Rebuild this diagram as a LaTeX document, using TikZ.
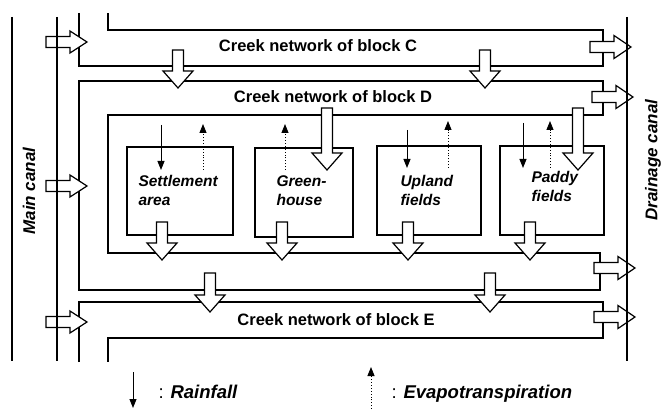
\documentclass[tikz,border=0pt]{standalone}
\usepackage{fontspec}
\setmainfont{Liberation Sans}
\usetikzlibrary{arrows.meta}
\begin{document}
\begin{tikzpicture}[x=1pt, y=-1pt,
    wall/.style = {black, line width=1.5pt},
    field/.style = {draw, line width=1.5pt, inner sep=0pt},
    flowline/.style = {draw, fill=white, line width=1.2pt, line join=miter},
    pics/flow/.style n args = {2}{code={
        \draw[flowline] (0,-5.5) -- ({#1-17},-5.5) -- ({#1-17},-#2) -- (#1,0)
              -- ({#1-17},#2) -- ({#1-17},5.5) -- (0,5.5) -- cycle;}},
    rain/.style = {line width=1pt, -{Triangle[length=9pt,width=7pt]}},
    evap/.style = {line width=0.9pt, dotted, -{Triangle[length=9pt,width=7pt]}},
    creek/.style = {font=\fontsize{16.5}{18}\selectfont\bfseries, anchor=base},
    canal/.style = {font=\fontsize{17}{19}\selectfont\bfseries\itshape, rotate=90},
    land/.style = {font=\fontsize{15.5}{19}\selectfont\bfseries\itshape, align=left, anchor=base west},
    legend/.style = {font=\fontsize{18.5}{20}\selectfont, anchor=base west}]
    \useasboundingbox (0,0) rectangle (670,409);

    % creek networks
    \draw[wall] (79,13) -- (79,66) -- (603,66) -- (603,30) -- (108,30) -- (108,13);
    \draw[wall] (79,81) -- (603,81) -- (603,115) -- (108,115) -- (108,253)
                -- (600,253) -- (600,290) -- (79,290) -- cycle;
    \draw[wall] (79,362) -- (79,302) -- (603,302) -- (603,338) -- (108,338) -- (108,362);

    % land uses
    \node[field, minimum width=106pt, minimum height=88pt] (settle) at (180,191) {};
    \node[field, minimum width=98pt, minimum height=89pt] (green) at (304,192.5) {};
    \node[field, minimum width=104pt, minimum height=89pt] (upland) at (429,190.5) {};
    \node[field, minimum width=104pt, minimum height=89pt] (paddy) at (552,190.5) {};

    \node[land] (settleL) at (135,206) {Settlement\\area};
    \node[land] (greenL) at (273,206) {Green-\\house};
    \node[land] (uplandL) at (397,206) {Upland\\fields};
    \node[land] (paddyL) at (528,202) {Paddy\\fields};

    % rainfall and evapotranspiration
    \draw[rain] (161,125) -- (161,170);
    \draw[rain] (407,130) -- (407,168);
    \draw[rain] (523,123) -- (523,168);
    \draw[evap] (203,170) -- (203,124);
    \draw[evap] (285,170) -- (285,124);
    \draw[evap] (448,168) -- (448,121);
    \draw[evap] (550,168) -- (550,121);

    % water flows
    \foreach \y in {42,186,322}
        \pic at (46,\y) {flow={41}{11}};
    \foreach \y/\x in {47/590,97/592,268/594,317/594}
        \pic at (\x,\y) {flow={41}{11.5}};
    \foreach \x in {178,485}
        \pic[rotate=-90] at (\x,50) {flow={38}{15}};
    \foreach \x in {327,578}
        \pic[rotate=-90] at (\x,108) {flow={62}{15}};
    \foreach \x in {162,282,408,530}
        \pic[rotate=-90] at (\x,222) {flow={38}{15}};
    \foreach \x in {210,490}
        \pic[rotate=-90] at (\x,273) {flow={39}{15}};

    % canals
    \draw[wall] (12,17) -- (12,361);
    \draw[wall] (57,17) -- (57,361);
    \draw[wall] (627,17) -- (627,361);

    \node[creek] (netC) at (318,52) {Creek network of block C};
    \node[creek] (netD) at (333,103) {Creek network of block D};
    \node[creek] (netE) at (336,325) {Creek network of block E};
    \node[canal] (main) at (29,191) {Main canal};
    \node[canal] (drain) at (653,160) {Drainage canal};

    % legend
    \draw[rain] (133,372) -- (133,408);
    \node[legend] (rainL) at (155,398) {: \bfseries\itshape Rainfall};
    \draw[evap] (371,409) -- (371,367);
    \node[legend] (evapL) at (388,398) {: \bfseries\itshape Evapotranspiration};
\end{tikzpicture}
\end{document}
